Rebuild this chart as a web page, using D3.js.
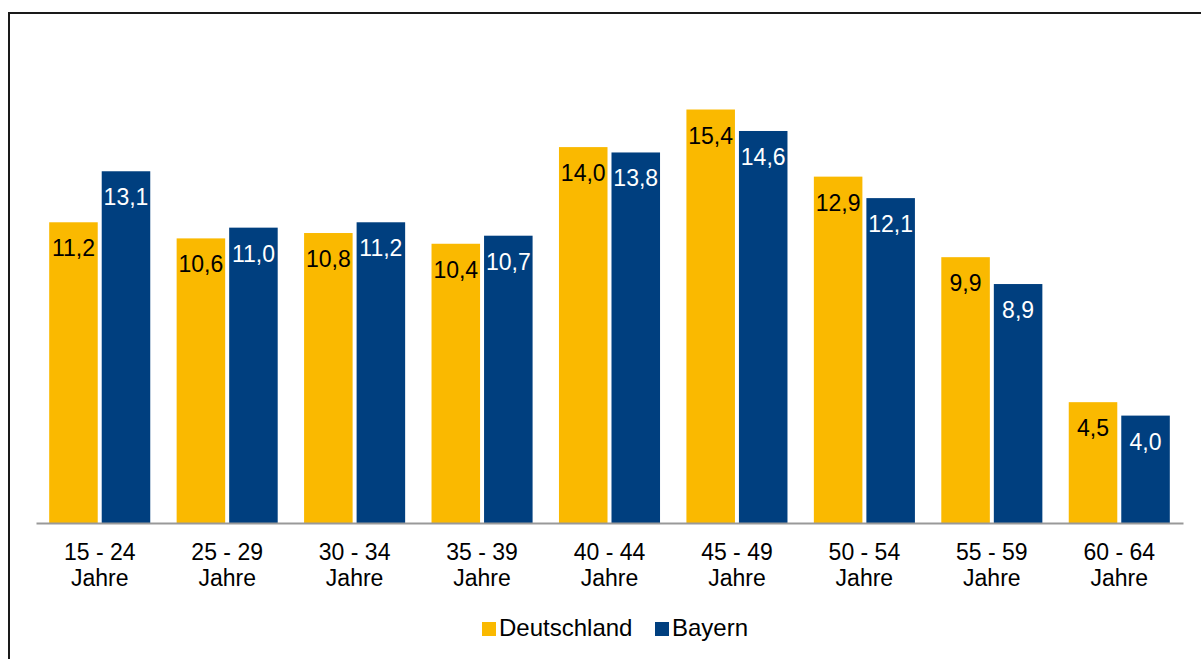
<!DOCTYPE html>
<html><head><meta charset="utf-8">
<script src="https://cdn.jsdelivr.net/npm/d3@7"></script>
<style>body{margin:0;background:#fff}svg{display:block;font-family:"Liberation Sans",Arial,sans-serif}</style>
</head><body>
<svg id="c" width="1201" height="659"></svg>
<script>
const categories = ["15 - 24|Jahre","25 - 29|Jahre","30 - 34|Jahre","35 - 39|Jahre","40 - 44|Jahre","45 - 49|Jahre","50 - 54|Jahre","55 - 59|Jahre","60 - 64|Jahre"];
const seriesNames = ["Deutschland","Bayern"];
const deutschland = [11.2,10.6,10.8,10.4,14.0,15.4,12.9,9.9,4.5];
const bayern = [13.1,11.0,11.2,10.7,13.8,14.6,12.1,8.9,4.0];
const colors = ["#FAB900","#003F7F"];
const labelColors = ["#000","#fff"];

const svg = d3.select("#c");
// frame
svg.append("rect").attr("x",9).attr("y",13).attr("width",1300).attr("height",1000)
  .attr("fill","none").attr("stroke","#1a1a1a").attr("stroke-width",2);

const x0 = d3.scaleBand().domain(categories).range([36,1183]).paddingInner(0.207).paddingOuter(0.1035);
const x1 = d3.scaleBand().domain(seriesNames).range([0,x0.bandwidth()]).paddingInner(0.076);
const y = d3.scaleLinear().domain([0,16]).range([523,523-16*26.85]);
const data = categories.map((c,i)=>({c, vals:[deutschland[i],bayern[i]]}));

const g = svg.selectAll("g.grp").data(data).join("g").attr("class","grp")
  .attr("transform",d=>`translate(${x0(d.c)},0)`);
g.selectAll("rect").data(d=>d.vals.map((v,j)=>({v,j}))).join("rect")
  .attr("x",d=>x1(seriesNames[d.j])).attr("width",x1.bandwidth())
  .attr("y",d=>y(d.v)).attr("height",d=>y(0)-y(d.v))
  .attr("fill",d=>colors[d.j]);
g.selectAll("text").data(d=>d.vals.map((v,j)=>({v,j}))).join("text")
  .attr("x",d=>x1(seriesNames[d.j])+x1.bandwidth()/2).attr("y",d=>y(d.v)+34)
  .attr("text-anchor","middle").attr("font-size",23).attr("fill",d=>labelColors[d.j])
  .text(d=>d.v.toFixed(1).replace(".",","));

// axis
const ax = svg.append("g").attr("transform","translate(0,523)")
  .call(d3.axisBottom(x0).tickSize(0).tickSizeOuter(0).tickFormat(""));
ax.select(".domain").attr("stroke","#999").attr("stroke-width",2);
ax.selectAll(".tick").each(function(d){
  const t = d3.select(this).append("text").attr("fill","#000").attr("font-size",23)
    .attr("text-anchor","middle");
  d.split("|").forEach((s,i)=>t.append("tspan").attr("x",0).attr("y",37+i*26).text(s));
});

// legend
const leg = svg.append("g");
const legX = [482,655];
seriesNames.forEach((s,i)=>{
  leg.append("rect").attr("x",legX[i]).attr("y",622).attr("width",14).attr("height",14).attr("fill",colors[i]);
  leg.append("text").attr("x",legX[i]+17).attr("y",636).attr("font-size",24).attr("fill","#000").text(s);
});
</script>
</body></html>
